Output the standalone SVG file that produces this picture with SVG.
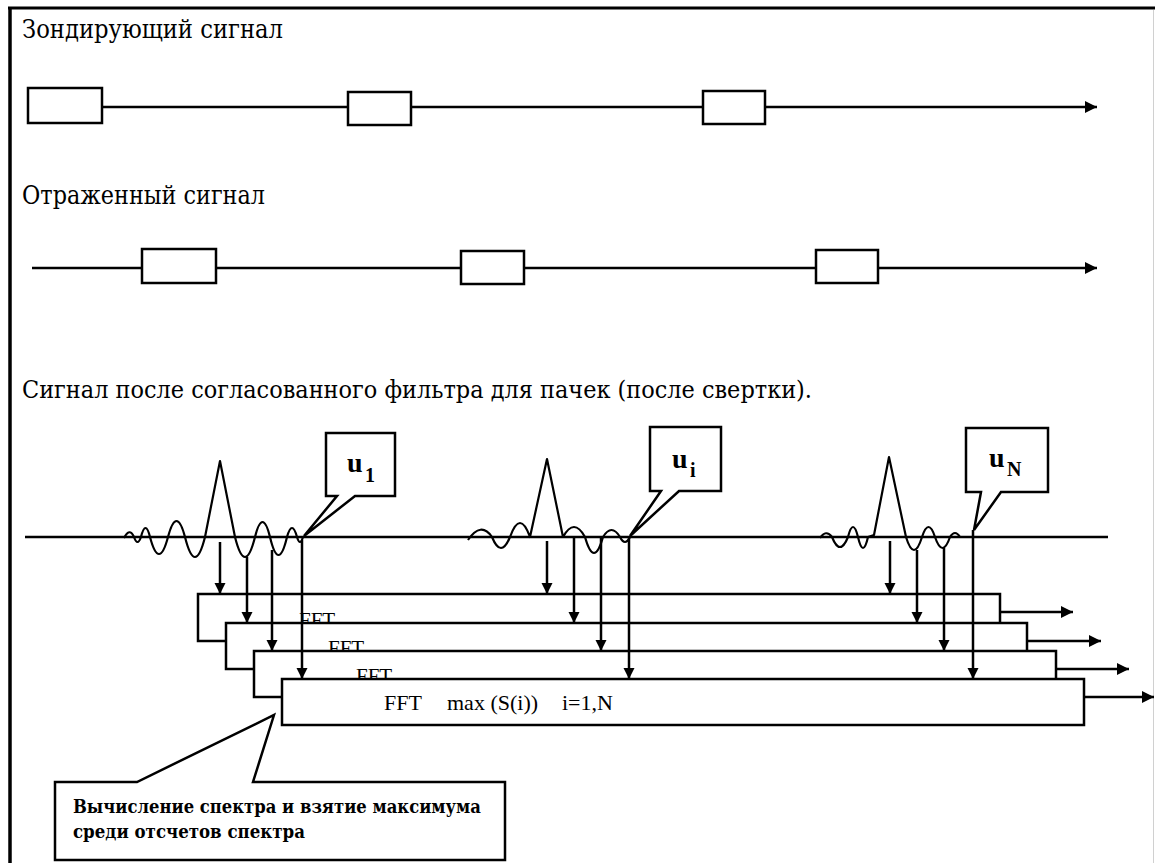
<svg xmlns="http://www.w3.org/2000/svg" width="1155" height="863" viewBox="0 0 1155 863">
<defs>
<style>
.t{font-family:"Liberation Serif","Times New Roman",serif;fill:#000}
.c{font-family:"DejaVu Serif","Liberation Serif",serif;fill:#000}
.ln{stroke:#000;stroke-width:2.5;fill:none}
.bx{stroke:#000;stroke-width:2.5;fill:#fff}
.pl{stroke:#000;stroke-width:2.2;fill:none;stroke-linejoin:round}
</style>
<marker id="ah" viewBox="0 0 10 10" refX="10" refY="5" markerWidth="15" markerHeight="12" orient="auto" markerUnits="userSpaceOnUse"><path d="M0,0 L10,5 L0,10 z" fill="#000"/></marker>
<marker id="av" viewBox="0 0 10 10" refX="10" refY="5" markerWidth="11" markerHeight="12" orient="auto" markerUnits="userSpaceOnUse"><path d="M0,0 L10,5 L0,10 z" fill="#000"/></marker>
</defs>
<rect x="0" y="0" width="1155" height="863" fill="#fff"/>
<g id="frame">
<line x1="8" y1="8" x2="1155" y2="8" stroke="#000" stroke-width="3"/>
<line x1="10" y1="7" x2="10" y2="863" stroke="#000" stroke-width="3.5"/>
<line x1="1153.5" y1="10" x2="1153.5" y2="863" stroke="#d0d0d0" stroke-width="1"/>
</g>
<g id="titles">
<text class="c" x="22" y="38" font-size="26" textLength="261" lengthAdjust="spacingAndGlyphs">Зондирующий сигнал</text>
<text class="c" x="22" y="204" font-size="26" textLength="243" lengthAdjust="spacingAndGlyphs">Отраженный сигнал</text>
<text class="c" x="22" y="398" font-size="25" textLength="790" lengthAdjust="spacingAndGlyphs">Сигнал после согласованного фильтра для пачек (после свертки).</text>
</g>
<g id="probe-signal">
<line class="ln" x1="102" y1="107" x2="1097" y2="107" marker-end="url(#ah)"/>
<rect class="bx" x="28" y="88" width="74" height="35"/>
<rect class="bx" x="348" y="92" width="63" height="33"/>
<rect class="bx" x="703" y="91" width="62" height="33"/>
</g>
<g id="reflected-signal">
<line class="ln" x1="32" y1="268" x2="1097" y2="268" marker-end="url(#ah)"/>
<rect class="bx" x="142" y="249" width="74" height="34"/>
<rect class="bx" x="461" y="251" width="63" height="33"/>
<rect class="bx" x="816" y="250" width="62" height="33"/>
</g>
<g id="filtered-signal">
<line class="ln" x1="25" y1="537" x2="1108" y2="537"/>
<path class="pl" d="M124,538 Q129.5,527 134,537 Q137.5,547 141,537 Q145.5,519 150,537 Q159,571 168,537 Q176.5,505 185,537 Q195,577 205,537 L220,461 L235,537 Q245,577 255,537 Q262.5,507 270,537 Q278.5,573 287,537 Q292,519 297,537 Q300,547 303,537"/>
<path class="pl" d="M468,540 Q481,521 492,537 Q501,559 510,537 Q520,509 530,537 L547,459 L563,537 Q574,517 585,537 Q594,569 603,537 Q611.5,523 620,537 Q625,547 630,537"/>
<path class="pl" d="M820,538 Q826,529 832,537 Q840,557 848,537 Q853,517 858,537 Q863,559 868,537 L874,535 L889,457 L906,537 Q914,563 922,537 Q928.5,517 935,537 Q942.5,559 950,537 Q955,529 960,537"/>
</g>
<g id="callout-u1">
<path class="bx" d="M326,433 H395 V496 H355 L304,536 L337,496 H326 Z"/>
<text class="t" x="347" y="472" font-size="28" font-weight="bold">u</text>
<text class="t" x="365" y="482" font-size="20" font-weight="bold">1</text>
</g>
<g id="callout-ui">
<path class="bx" d="M650,427 H721 V491 H679 L630,536 L661,491 H650 Z"/>
<text class="t" x="672" y="468" font-size="28" font-weight="bold">u</text>
<text class="t" x="690" y="477" font-size="20" font-weight="bold">i</text>
</g>
<g id="callout-uN">
<path class="bx" d="M966,428 H1048 V492 H1001 L974,530 L981,492 H966 Z"/>
<text class="t" x="989" y="467" font-size="28" font-weight="bold">u</text>
<text class="t" x="1007" y="476" font-size="20" font-weight="bold">N</text>
</g>
<g id="fft1">
<rect class="bx" x="198" y="594" width="802" height="47"/>
<text class="t" x="299" y="627" font-size="21">FFT</text>
</g>
<g id="fft2">
<rect class="bx" x="226" y="623" width="801" height="46"/>
<text class="t" x="328" y="655" font-size="21">FFT</text>
</g>
<g id="fft3">
<rect class="bx" x="254" y="651" width="802" height="46"/>
<text class="t" x="356" y="683" font-size="21">FFT</text>
</g>
<g id="fft4">
<rect class="bx" x="282" y="679" width="802" height="46"/>
<text class="t" x="384" y="710" font-size="22">FFT</text>
<text class="t" x="447" y="710" font-size="22">max (S(i))</text>
<text class="t" x="562" y="710" font-size="22">i=1,N</text>
</g>
<g id="connectors">
<line class="ln" x1="220" y1="542" x2="220" y2="594" marker-end="url(#av)"/>
<line class="ln" x1="247" y1="557" x2="247" y2="623" marker-end="url(#av)"/>
<line class="ln" x1="272" y1="550" x2="272" y2="651" marker-end="url(#av)"/>
<line class="ln" x1="302" y1="540" x2="302" y2="679" marker-end="url(#av)"/>
<line class="ln" x1="547" y1="541" x2="547" y2="594" marker-end="url(#av)"/>
<line class="ln" x1="574" y1="537" x2="574" y2="623" marker-end="url(#av)"/>
<line class="ln" x1="601" y1="537" x2="601" y2="651" marker-end="url(#av)"/>
<line class="ln" x1="629" y1="537" x2="629" y2="679" marker-end="url(#av)"/>
<line class="ln" x1="890" y1="541" x2="890" y2="594" marker-end="url(#av)"/>
<line class="ln" x1="917" y1="550" x2="917" y2="623" marker-end="url(#av)"/>
<line class="ln" x1="944" y1="548" x2="944" y2="651" marker-end="url(#av)"/>
<line class="ln" x1="973" y1="530" x2="973" y2="679" marker-end="url(#av)"/>
<line class="ln" x1="1000" y1="612" x2="1073" y2="612" marker-end="url(#ah)"/>
<line class="ln" x1="1027" y1="641" x2="1101" y2="641" marker-end="url(#ah)"/>
<line class="ln" x1="1056" y1="669" x2="1129" y2="669" marker-end="url(#ah)"/>
<line class="ln" x1="1084" y1="697" x2="1154" y2="697" marker-end="url(#ah)"/>
</g>
<g id="callout-note">
<path class="bx" d="M55,782 H137 L274,715 L253,782 H505 V860 H55 Z"/>
<text class="c" x="73" y="813" font-size="19" font-weight="bold" textLength="408" lengthAdjust="spacingAndGlyphs">Вычисление спектра и взятие максимума</text>
<text class="c" x="73" y="838" font-size="19" font-weight="bold" textLength="232" lengthAdjust="spacingAndGlyphs">среди отсчетов спектра</text>
</g>
</svg>
